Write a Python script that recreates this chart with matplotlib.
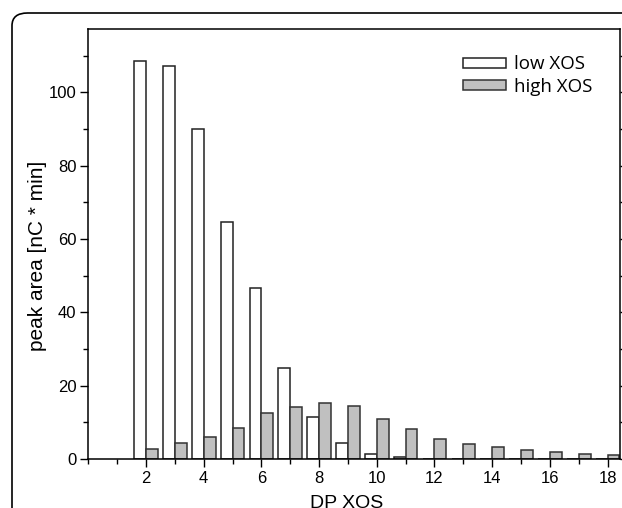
"""Peak area of XOS by degree of polymerisation: low vs high XOS."""

import matplotlib

matplotlib.use("Agg")
import matplotlib.pyplot as plt
import numpy as np
from matplotlib.patches import FancyBboxPatch
from matplotlib.ticker import MultipleLocator

DP = [2, 3, 4, 5, 6, 7, 8, 9, 10, 11, 12, 13, 14, 15, 16, 17, 18]
LOW_XOS = [108.5, 107.3, 90.1, 64.7, 46.7, 24.8, 11.5, 4.5, 1.4, 0.5,
           0, 0, 0, 0, 0, 0, 0]
HIGH_XOS = [2.6, 4.3, 5.9, 8.4, 12.5, 14.2, 15.2, 14.4, 10.8, 8.2,
            5.4, 4.2, 3.2, 2.4, 1.9, 1.3, 1.0]
SERIES = ["low XOS", "high XOS"]
COLORS = {"low XOS": "white", "high XOS": "#c0c0c0"}

W, H, DPI = 622, 508, 100
TICK_FONT = "Liberation Sans"
LEGEND_FONT = "Open Sans"


def main() -> None:
    fig = plt.figure(figsize=(W / DPI, H / DPI), dpi=DPI)
    # rounded frame around the whole panel (runs off the right/bottom edge)
    frame = FancyBboxPatch(
        (12 / W, -0.2), 1.2, 1 - 13 / H + 0.2,
        boxstyle="round,pad=0,rounding_size=0.025",
        transform=fig.transFigure, facecolor="none", edgecolor="black",
        linewidth=1.2,
    )
    fig.patches.append(frame)

    ax = fig.add_axes([88.3 / W, 1 - 459 / H, (620 - 88.3) / W, (459 - 29.3) / H])
    x = np.array(DP)
    width = 0.41
    ax.bar(x - width, LOW_XOS, width, align="edge", color=COLORS["low XOS"],
           edgecolor="#222222", linewidth=1.1, label=SERIES[0])
    ax.bar(x, HIGH_XOS, width, align="edge", color=COLORS["high XOS"],
           edgecolor="#333333", linewidth=1.1, label=SERIES[1])

    ax.set_xlim(0, 18.43)
    ax.set_ylim(0, 117.2)
    ax.set_xticks(range(2, 19, 2))
    ax.xaxis.set_minor_locator(MultipleLocator(1))
    ax.yaxis.set_major_locator(MultipleLocator(20))
    ax.yaxis.set_minor_locator(MultipleLocator(10))

    ax.tick_params(axis="both", which="major", direction="out", length=5.5,
                   width=1, labelsize=12, pad=3)
    ax.tick_params(axis="both", which="minor", direction="out", length=3.3, width=1)
    ax.tick_params(axis="y", which="both", right=True)
    for lab in ax.get_xticklabels() + ax.get_yticklabels():
        lab.set_fontfamily(TICK_FONT)
    for s in ax.spines.values():
        s.set_linewidth(1.1)

    ax.set_xlabel("DP XOS", fontsize=14, fontfamily=TICK_FONT)
    ax.set_ylabel("peak area [nC * min]", fontsize=15, fontfamily=TICK_FONT)
    ax.xaxis.set_label_coords(0.485, -0.083)
    ax.yaxis.set_label_coords(-0.078, 0.472)

    fig.legend(
        loc="upper left", bbox_to_anchor=(454 / W, 1 - 46 / H),
        frameon=False, borderpad=0, handlelength=2.25, handleheight=0.45,
        handletextpad=0.45, labelspacing=0.22,
        prop={"family": LEGEND_FONT, "size": 13.5},
    )

    fig.savefig("out.png", dpi=DPI)
    plt.close(fig)


if __name__ == "__main__":
    main()
